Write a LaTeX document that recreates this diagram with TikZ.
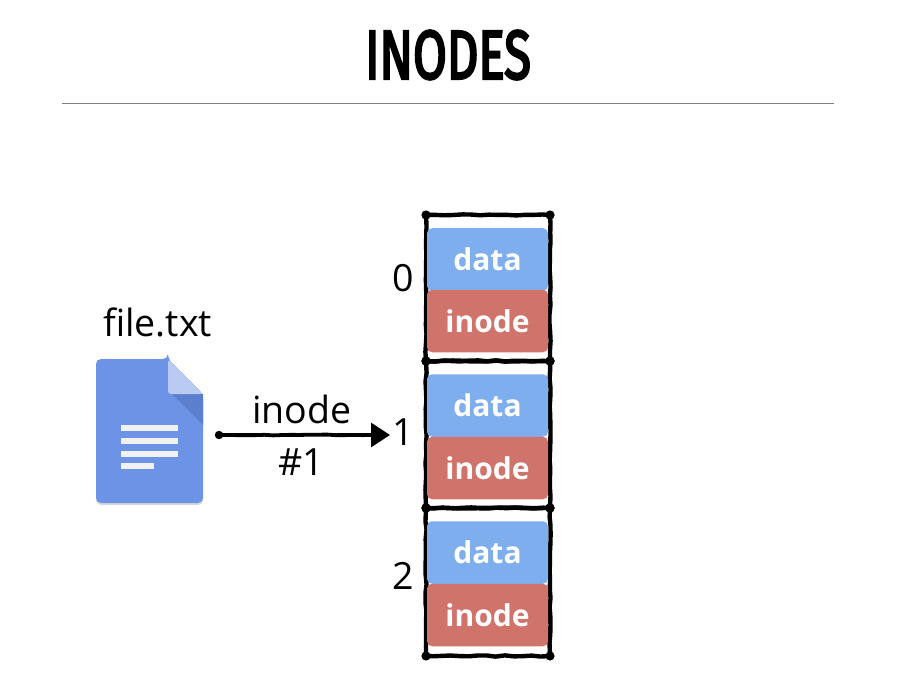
\documentclass[tikz,border=0pt]{standalone}
\usepackage{fontspec}
\setmainfont{Open Sans}
\newfontfamily\titlefont[FakeBold=4]{Fira Sans}
\usetikzlibrary{decorations.pathmorphing,arrows.meta}
\definecolor{databox}{HTML}{7FAEEE}
\definecolor{inodebox}{HTML}{CF736B}
\definecolor{docblue}{HTML}{6C93E5}
\definecolor{docfold}{HTML}{B9CAF3}
\definecolor{docshade}{HTML}{5B7FCC}
\definecolor{docline}{HTML}{F1F1F1}
\tikzset{
  x=1pt,y=-1pt,
  sketch/.style={draw=black,line width=4.4pt,line join=round,line cap=round,
    decorate,decoration={random steps,segment length=9pt,amplitude=0.6pt}},
  block/.style={rounded corners=5pt,minimum width=121pt,minimum height=62.5pt,inner sep=0pt,
    text=white,font=\fontsize{30}{32}\selectfont\bfseries},
  datablock/.style={block,fill=databox},
  inodeblock/.style={block,fill=inodebox},
  label/.style={inner sep=0pt,font=\fontsize{37.5}{42}\selectfont,text=black},
}
\newcommand{\frameblock}[5]{%
  \coordinate (#1a) at (#2,#3);\coordinate (#1b) at (#4,#3);
  \coordinate (#1c) at (#4,#5);\coordinate (#1d) at (#2,#5);
  \draw[sketch] (#1a) -- (#1b) -- (#1c) -- (#1d) -- cycle;
  \foreach \k in {a,b,c,d} \fill (#1\k) circle (4.6pt);
}
\begin{document}
\begin{tikzpicture}
\useasboundingbox (0,0) rectangle (898,698);
\fill[white] (0,0) rectangle (898,698);
% title
\node[inner sep=0pt,yscale=1.4,transform shape] (title) at (448,55) {\titlefont\fontsize{49}{54}\selectfont INODES};
\coordinate (ruleL) at (62,103.5);
\coordinate (ruleR) at (834,103.5);
\draw[line width=0.9pt,draw=black!50] (ruleL) -- (ruleR);
% frames
\pgfmathsetseed{7}
\frameblock{f0}{426}{215}{550}{361}
\frameblock{f1}{426}{361}{550}{508}
\frameblock{f2}{426}{508}{550}{656}
% blocks
\node[datablock] (d0) at (487.5,259.5) {\raisebox{-1pt}{data}};
\node[inodeblock] (i0) at (487.5,321) {\raisebox{-1pt}{inode}};
\node[datablock] (d1) at (487.5,405.5) {\raisebox{-1pt}{data}};
\node[inodeblock] (i1) at (487.5,468) {\raisebox{-1pt}{inode}};
\node[datablock] (d2) at (487.5,552.5) {\raisebox{-1pt}{data}};
\node[inodeblock] (i2) at (487.5,615) {\raisebox{-1pt}{inode}};
% index labels
\node[label] (n0) at (403,278) {0};
\node[label] (n1) at (403,432) {1};
\node[label] (n2) at (403,576) {2};
% file icon
\fill[black!30,opacity=.5,rounded corners=5pt] (96,361) -- (168,361) -- (203,396) -- (203,505) -- (96,505) -- cycle;
\fill[docblue,rounded corners=5pt] (96,359) -- (168,359) -- (168,359) -- (203,394) -- (203,503) -- (96,503) -- cycle;
\fill[docshade] (170,392) -- (203,394) -- (203,425) -- cycle;
\fill[docfold,rounded corners=3pt] (168,359) -- (168,394) -- (203,394) -- cycle;
\fill[docline] (121,425) rectangle (178,431);
\fill[docline] (121,438) rectangle (178,444);
\fill[docline] (121,450.5) rectangle (178,456.5);
\fill[docline] (121,463) rectangle (154,469);
\node[label] (fname) at (157.5,322) {file.txt};
% arrow
\node[label] (lab1) at (302,409) {inode};
\node[label] (lab2) at (301,462) {\#1};
\coordinate (arrowstart) at (219,435);
\coordinate (arrowend) at (390,435);
\fill (arrowstart) circle (4.2pt);
\draw[line width=3.8pt,decorate,decoration={random steps,segment length=9pt,amplitude=0.4pt}] (arrowstart) -- (375,435);
\draw[line width=3pt,-{Triangle[length=19pt,width=24pt]}] (375,435) -- (arrowend);
\end{tikzpicture}
\end{document}
